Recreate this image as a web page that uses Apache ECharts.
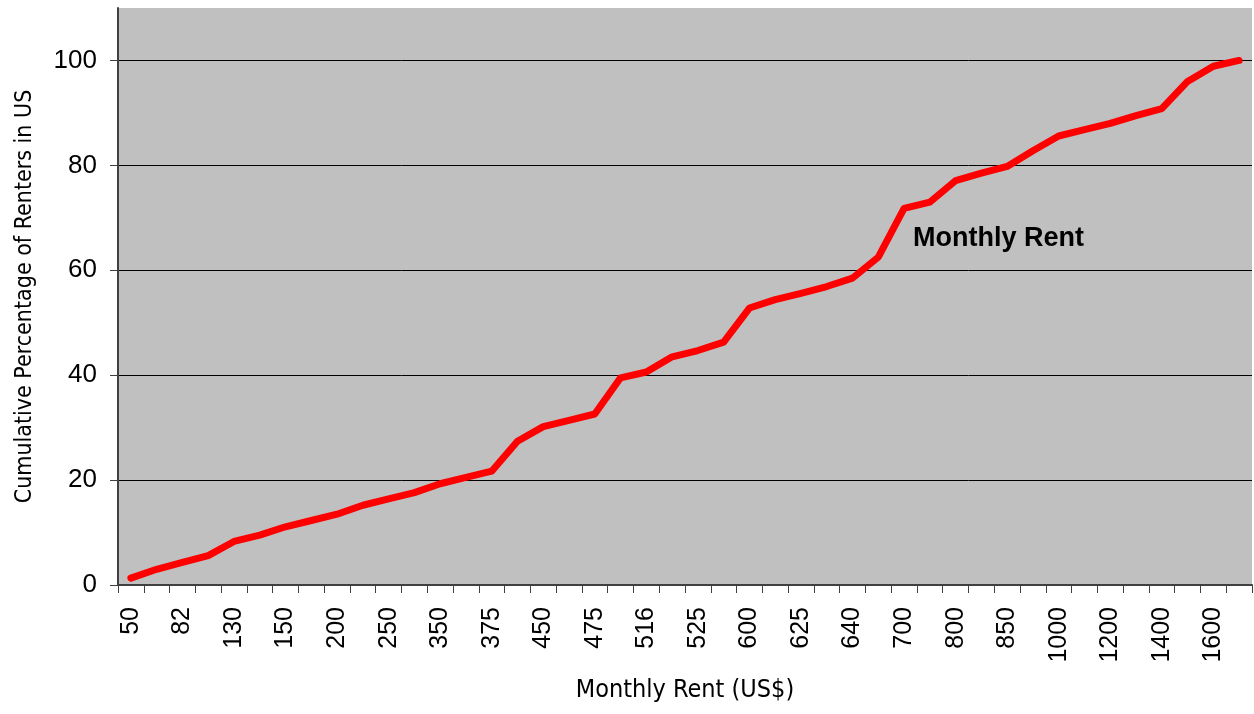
<!DOCTYPE html>
<html>
<head>
<meta charset="utf-8">
<script src="https://cdn.jsdelivr.net/npm/echarts@6/dist/echarts.min.js"></script>
<style>
  html, body { margin: 0; padding: 0; background: #fff; }
  #chart { width: 1254px; height: 714px; }
</style>
</head>
<body>
<div id="chart"></div>
<script>
// rent categories, only every other one is labelled in the source
const rentLabels = [
  '50', '', '82', '', '130', '', '150', '', '200', '', '250', '',
  '350', '', '375', '', '450', '', '475', '', '516', '', '525', '',
  '600', '', '625', '', '640', '', '700', '', '800', '', '850', '',
  '1000', '', '1200', '', '1400', '', '1600', ''
];

// cumulative % of renters
const cumulativePct = [
  1.3, 3.0, 4.3, 5.6, 8.3, 9.5, 11.1, 12.3, 13.5, 15.2, 16.4, 17.6,
  19.3, 20.5, 21.7, 27.4, 30.2, 31.4, 32.6, 39.5, 40.6, 43.5, 44.7, 46.3,
  52.8, 54.4, 55.6, 56.9, 58.5, 62.5, 71.8, 73.0, 77.1, 78.5, 79.8, 82.8,
  85.6, 86.8, 88.0, 89.5, 90.8, 96.0, 98.9, 100
];

const yTicks = [0, 20, 40, 60, 80, 100];

const chart = echarts.init(document.getElementById('chart'));

chart.setOption({
  animation: false,
  grid: {
    left: 118,
    right: 2,
    top: 8,
    bottom: 129,
    show: true,
    backgroundColor: '#c0c0c0',
    borderWidth: 0
  },
  graphic: [{
    type: 'text',
    left: 913,
    top: 225,
    style: {
      text: 'Monthly Rent',
      font: 'bold 27px "Liberation Sans", Arial, sans-serif',
      fill: '#000'
    }
  }],
  xAxis: {
    type: 'category',
    data: rentLabels,
    boundaryGap: true,
    name: 'Monthly Rent (US$)',
    nameLocation: 'middle',
    nameGap: 93,
    nameTextStyle: {
      fontFamily: '"Liberation Sans Narrow", "DejaVu Sans Condensed", sans-serif',
      fontSize: 25,
      color: '#000'
    },
    axisLine: { lineStyle: { color: '#404040', width: 2 } },
    axisTick: { show: true, interval: 0, length: 8, lineStyle: { color: '#404040' } },
    axisLabel: {
      interval: 0,
      rotate: 90,
      margin: 22,
      fontFamily: '"Liberation Sans", Arial, sans-serif',
      fontSize: 25,
      color: '#000'
    },
    splitLine: { show: false }
  },
  yAxis: {
    type: 'value',
    min: 0,
    max: 110,
    interval: 20,
    name: 'Cumulative Percentage of Renters in US',
    nameLocation: 'middle',
    nameGap: 81,
    nameTextStyle: {
      fontFamily: '"Liberation Sans Narrow", "DejaVu Sans Condensed", sans-serif',
      fontSize: 23,
      color: '#000'
    },
    axisLine: { show: true, lineStyle: { color: '#404040', width: 2 } },
    axisTick: { show: true, length: 8, lineStyle: { color: '#404040' } },
    axisLabel: {
      margin: 21,
      fontFamily: '"Liberation Sans", Arial, sans-serif',
      fontSize: 26,
      color: '#000',
      showMaxLabel: false,
      formatter: v => (yTicks.indexOf(v) >= 0 ? String(v) : '')
    },
    splitLine: { show: true, showMaxLine: false, lineStyle: { color: '#000', width: 1 } }
  },
  series: [{
    type: 'line',
    data: cumulativePct,
    symbol: 'none',
    lineStyle: { color: '#ff0000', width: 7, cap: 'round', join: 'round' }
  }]
});
</script>
</body>
</html>
